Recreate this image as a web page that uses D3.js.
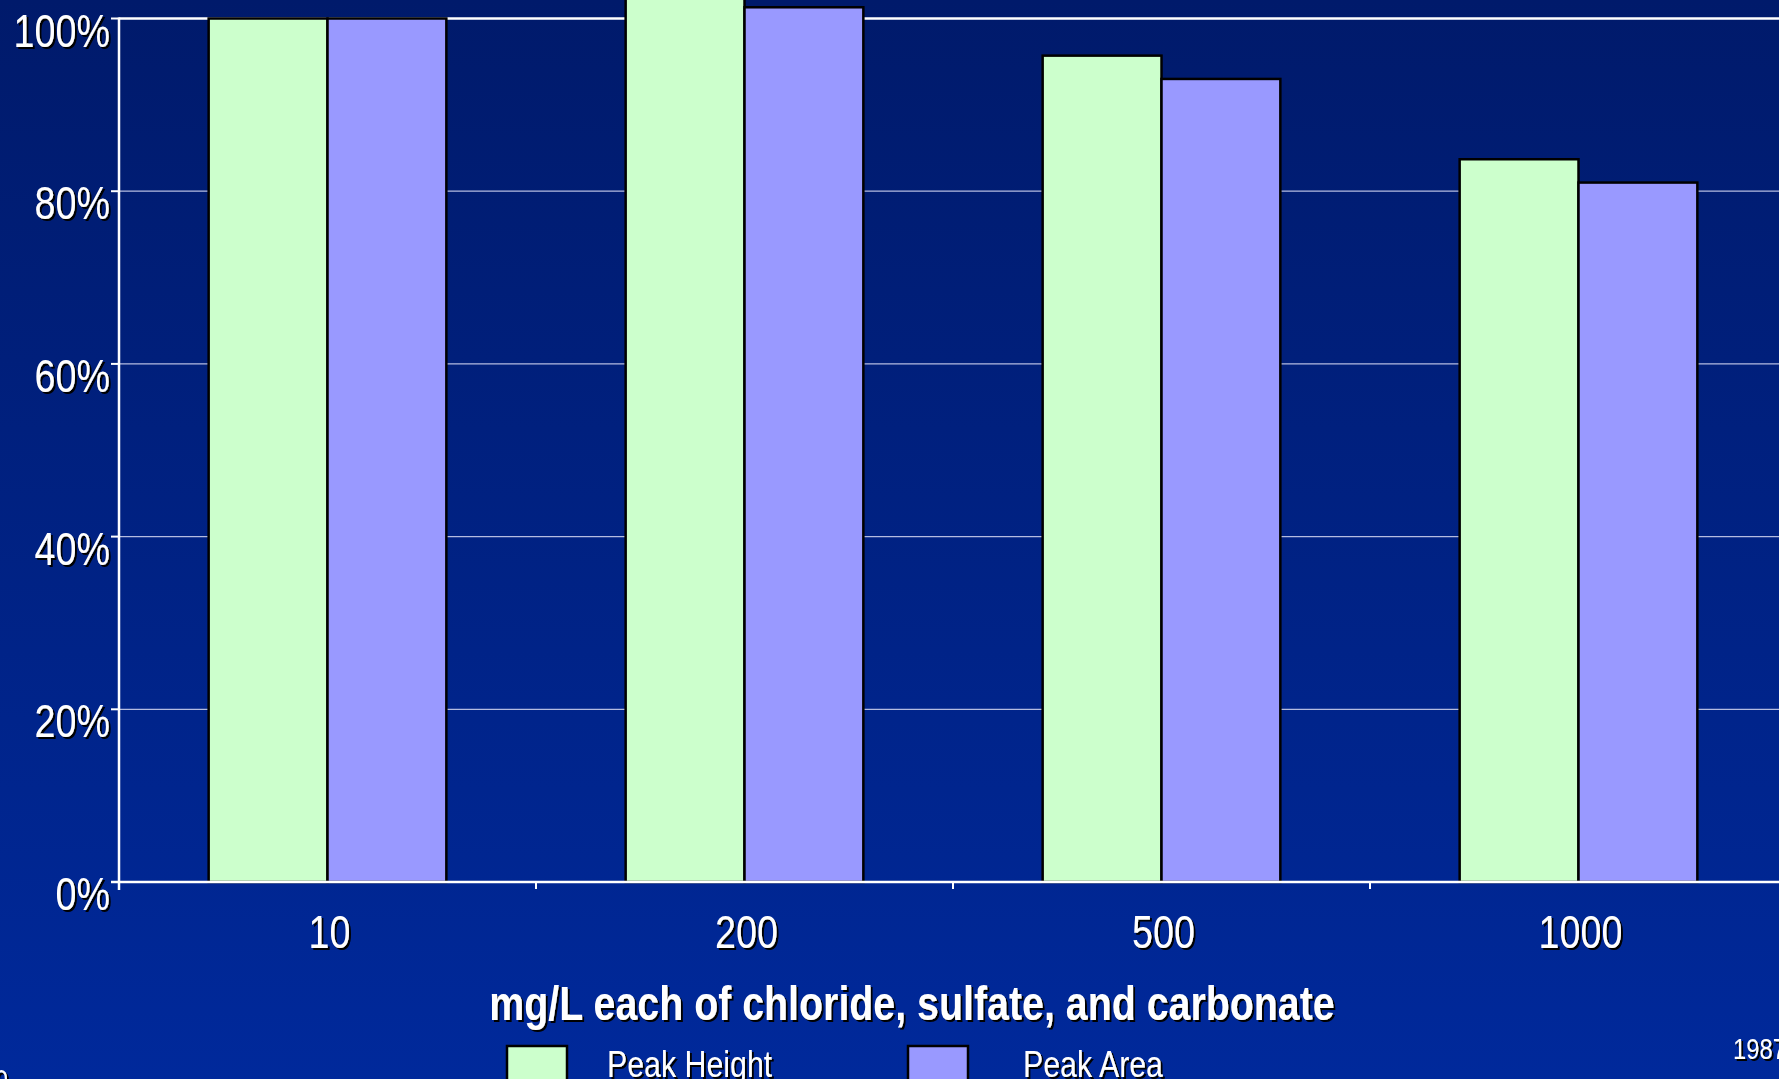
<!DOCTYPE html>
<html>
<head>
<meta charset="utf-8">
<script src="https://cdn.jsdelivr.net/npm/d3@7"></script>
<style>
  html, body { margin: 0; padding: 0; background: #00237f; overflow: hidden; }
  svg { display: block; }
  text { font-family: 'Liberation Sans', Arial, sans-serif; fill: #ffffff; }
</style>
</head>
<body>
<div id="chart"></div>
<script>
const categories = ['10', '200', '500', '1000']
const seriesNames = ['Peak Height', 'Peak Area']
const peakHeight = [1.00, 1.04, 0.957, 0.837]
const peakArea = [1.00, 1.013, 0.930, 0.810]
const yTicks = [0, 0.2, 0.4, 0.6, 0.8, 1.0]
const xTitle = 'mg/L each of chloride, sulfate, and carbonate'

const config = {
  width: 1779,
  height: 1079,
  plot: { left: 119, right: 1787, top: 18.5, bottom: 882 },
  narrow: 0.82,
  colors: {
    bgTop: '#001a6b',
    bgBottom: '#00299b',
    series: ['#ccffcc', '#9999ff'],
    grid: '#b4bce0'
  }
}

const rows = categories.map((c, i) => ({ cat: c, values: [peakHeight[i], peakArea[i]] }))

const svg = d3.select('#chart')
  .append('svg')
  .attr('width', config.width)
  .attr('height', config.height)

const defs = svg.append('defs')
const grad = defs.append('linearGradient')
  .attr('id', 'bg')
  .attr('x1', 0).attr('y1', 0).attr('x2', 0).attr('y2', 1)
grad.append('stop').attr('offset', '0%').attr('stop-color', config.colors.bgTop)
grad.append('stop').attr('offset', '100%').attr('stop-color', config.colors.bgBottom)

const shadow = defs.append('filter')
  .attr('id', 'shadow')
  .attr('x', '-10%').attr('y', '-10%').attr('width', '120%').attr('height', '130%')
shadow.append('feDropShadow')
  .attr('dx', 2.4).attr('dy', 2).attr('stdDeviation', 0.4)
  .attr('flood-color', '#000').attr('flood-opacity', 1)

svg.append('rect')
  .attr('width', config.width)
  .attr('height', config.height)
  .attr('fill', 'url(#bg)')

// narrow text: Liberation Sans squeezed horizontally, like Arial Narrow
const addText = (parent, x, y, str, size, anchor = 'start', weight = '400') =>
  parent.append('text')
    .attr('transform', `translate(${x},${y}) scale(${config.narrow},1)`)
    .attr('text-anchor', anchor)
    .attr('filter', 'url(#shadow)')
    .style('font-size', `${size}px`)
    .style('font-weight', weight)
    .text(str)

const plotLeft = config.plot.left
const plotRight = config.plot.right
const plotTop = config.plot.top
const plotBottom = config.plot.bottom

// Scales
const x0 = d3.scaleBand()
  .domain(categories)
  .range([plotLeft, plotRight])
  .paddingInner(0.43)
  .paddingOuter(0.215)
const step = x0.step()

const x1 = d3.scaleBand()
  .domain(seriesNames)
  .range([0, x0.bandwidth()])

const y = d3.scaleLinear()
  .domain([0, 1])
  .range([plotBottom, plotTop])

const color = d3.scaleOrdinal().domain(seriesNames).range(config.colors.series)

// Gridlines
svg.append('g')
  .selectAll('line')
  .data(yTicks.filter((t) => t > 0 && t < 1))
  .enter()
  .append('line')
  .attr('x1', plotLeft).attr('x2', config.width)
  .attr('y1', (d) => y(d)).attr('y2', (d) => y(d))
  .attr('stroke', config.colors.grid)
  .attr('stroke-width', 1.3)

// Top frame line at 100%
svg.append('line')
  .attr('x1', plotLeft).attr('x2', config.width)
  .attr('y1', y(1)).attr('y2', y(1))
  .attr('stroke', '#ffffff')
  .attr('stroke-width', 2.5)

// Bars
const groups = svg.append('g')
  .selectAll('.grp')
  .data(rows)
  .enter()
  .append('g')
  .attr('class', 'grp')
  .attr('transform', (d) => `translate(${x0(d.cat)},0)`)

groups.selectAll('rect')
  .data((d) => d.values.map((v, i) => ({ key: seriesNames[i], value: v })))
  .enter()
  .append('rect')
  .attr('x', (d) => x1(d.key))
  .attr('y', (d) => y(d.value))
  .attr('width', x1.bandwidth())
  .attr('height', (d) => y(0) - y(d.value))
  .attr('fill', (d) => color(d.key))
  .attr('stroke', '#000')
  .attr('stroke-width', 2.5)

// X axis
const xAxis = svg.append('g')
  .attr('transform', `translate(0,${plotBottom})`)
xAxis.append('line')
  .attr('x1', plotLeft - 8).attr('x2', config.width)
  .attr('stroke', '#fff').attr('stroke-width', 2.5)
xAxis.selectAll('.xtick')
  .data(categories.slice(1))
  .enter()
  .append('line')
  .attr('x1', (d) => x0(d) - step * 0.215)
  .attr('x2', (d) => x0(d) - step * 0.215)
  .attr('y1', 0).attr('y2', 7)
  .attr('stroke', '#fff').attr('stroke-width', 2)
categories.forEach((c) => {
  addText(xAxis, x0(c) + x0.bandwidth() / 2 + 2, 66, c, 46, 'middle')
})

// Y axis
const yAxis = svg.append('g')
yAxis.append('line')
  .attr('x1', plotLeft).attr('x2', plotLeft)
  .attr('y1', plotTop - 1).attr('y2', plotBottom + 8)
  .attr('stroke', '#fff').attr('stroke-width', 2.5)
yAxis.selectAll('.ytick')
  .data(yTicks)
  .enter()
  .append('line')
  .attr('x1', plotLeft - 8).attr('x2', plotLeft)
  .attr('y1', (d) => y(d)).attr('y2', (d) => y(d))
  .attr('stroke', '#fff').attr('stroke-width', 2)
yTicks.forEach((t) => {
  addText(yAxis, plotLeft - 9, y(t) + 28, d3.format('.0%')(t), 46, 'end')
})

// Axis title
addText(svg, 912, 1020, xTitle, 48, 'middle', '700')

// Legend
const legendX = [507, 908]
const legend = svg.append('g')
seriesNames.forEach((name, i) => {
  legend.append('rect')
    .attr('x', legendX[i]).attr('y', 1046)
    .attr('width', 60).attr('height', 40)
    .attr('fill', color(name))
    .attr('stroke', '#000').attr('stroke-width', 2.5)
  addText(legend, legendX[i] + 100 + (i === 1 ? 15 : 0), 1077, name, 37)
})

// Corner marks
addText(svg, 1733, 1059, '1987', 29)
addText(svg, 8, 1090, '0', 29, 'end')
</script>
</body>
</html>
